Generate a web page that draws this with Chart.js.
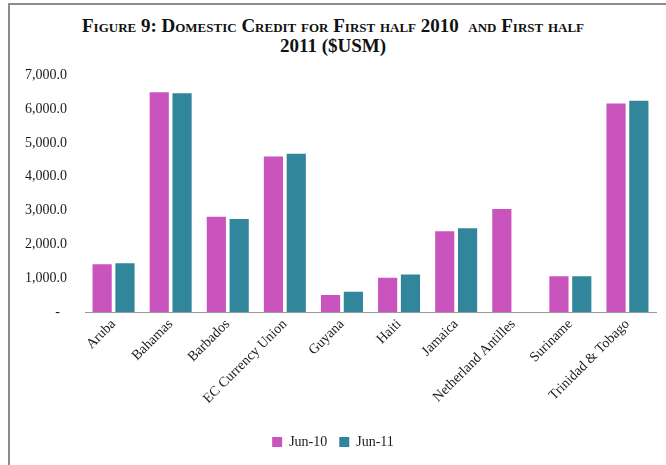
<!DOCTYPE html>
<html>
<head>
<meta charset="utf-8">
<script src="https://cdn.jsdelivr.net/npm/chart.js@4/dist/chart.umd.min.js"></script>
<style>
    body { margin: 0; background: #fff; width: 666px; height: 465px; overflow: hidden; position: relative; }
    .frame { position: absolute; left: 8px; top: 3px; width: 700px; height: 500px; border-top: 2px solid #8c8c8c; border-left: 2px solid #8c8c8c; }
    .title { position: absolute; left: 0; top: 16px; width: 666px; text-align: center; font-family: "Liberation Serif", "DejaVu Serif", serif; font-weight: bold; font-variant: small-caps; font-size: 19px; line-height: 20px; color: #111; }
    #chartWrap { position: absolute; left: 0; top: 49px; width: 666px; height: 416px; }
</style>
</head>
<body>
<div class="frame"></div>
<div class="title">Figure 9: Domestic Credit for First half 2010 &nbsp;and First half<br>2011 ($USM)</div>
<div id="chartWrap"><canvas id="creditChart"></canvas></div>
<script>
// Domestic credit, $USM
const countries = ['Aruba', 'Bahamas', 'Barbados', 'EC Currency Union', 'Guyana', 'Haiti', 'Jamaica', 'Netherland Antilles', 'Suriname', 'Trinidad & Tobago'];
const jun10 = [1410, 6500, 2815, 4600, 500, 1010, 2390, 3050, 1060, 6170];
const jun11 = [1440, 6470, 2755, 4680, 600, 1110, 2480, null, 1060, 6250];
const yTicks = [0, 1000, 2000, 3000, 4000, 5000, 6000, 7000];

const serif = '"Liberation Serif", "DejaVu Serif", serif';

function formatTick(value) {
    if (value === 0) return '-  ';
    return value.toLocaleString('en-US', { minimumFractionDigits: 1, maximumFractionDigits: 1 });
}

const ctx = document.getElementById('creditChart').getContext('2d');
new Chart(ctx, {
    type: 'bar',
    data: {
        labels: countries,
        datasets: [{
            label: 'Jun-10',
            data: jun10,
            backgroundColor: 'rgb(201, 84, 189)'
        }, {
            label: 'Jun-11',
            data: jun11,
            backgroundColor: 'rgb(49, 134, 156)'
        }]
    },
    options: {
        responsive: true,
        maintainAspectRatio: false,
        animation: false,
        layout: { padding: { left: 10, right: 10, top: 4, bottom: 6 } },
        datasets: {
            bar: { categoryPercentage: 0.8, barPercentage: 0.84 }
        },
        scales: {
            x: {
                grid: { display: false, drawTicks: false },
                border: { display: true, color: '#9a9a9a', width: 1 },
                ticks: {
                    minRotation: 45,
                    maxRotation: 45,
                    padding: 4,
                    color: '#1a1a1a',
                    font: { family: serif, size: 14 }
                },
                afterFit: s => { s.height = 111; }
            },
            y: {
                min: 0,
                max: 7000,
                afterBuildTicks: s => { s.ticks = yTicks.map(v => ({ value: v })); },
                grid: { display: false, drawTicks: false },
                border: { display: false },
                ticks: {
                    padding: 18,
                    color: '#1a1a1a',
                    font: { family: serif, size: 14 },
                    callback: v => formatTick(v)
                },
                afterFit: s => { s.width = 75; }
            }
        },
        plugins: {
            legend: {
                position: 'bottom',
                labels: {
                    boxWidth: 10,
                    boxHeight: 10,
                    padding: 12,
                    color: '#1a1a1a',
                    font: { family: serif, size: 14 }
                }
            },
            tooltip: { enabled: false }
        }
    }
});
</script>
</body>
</html>
